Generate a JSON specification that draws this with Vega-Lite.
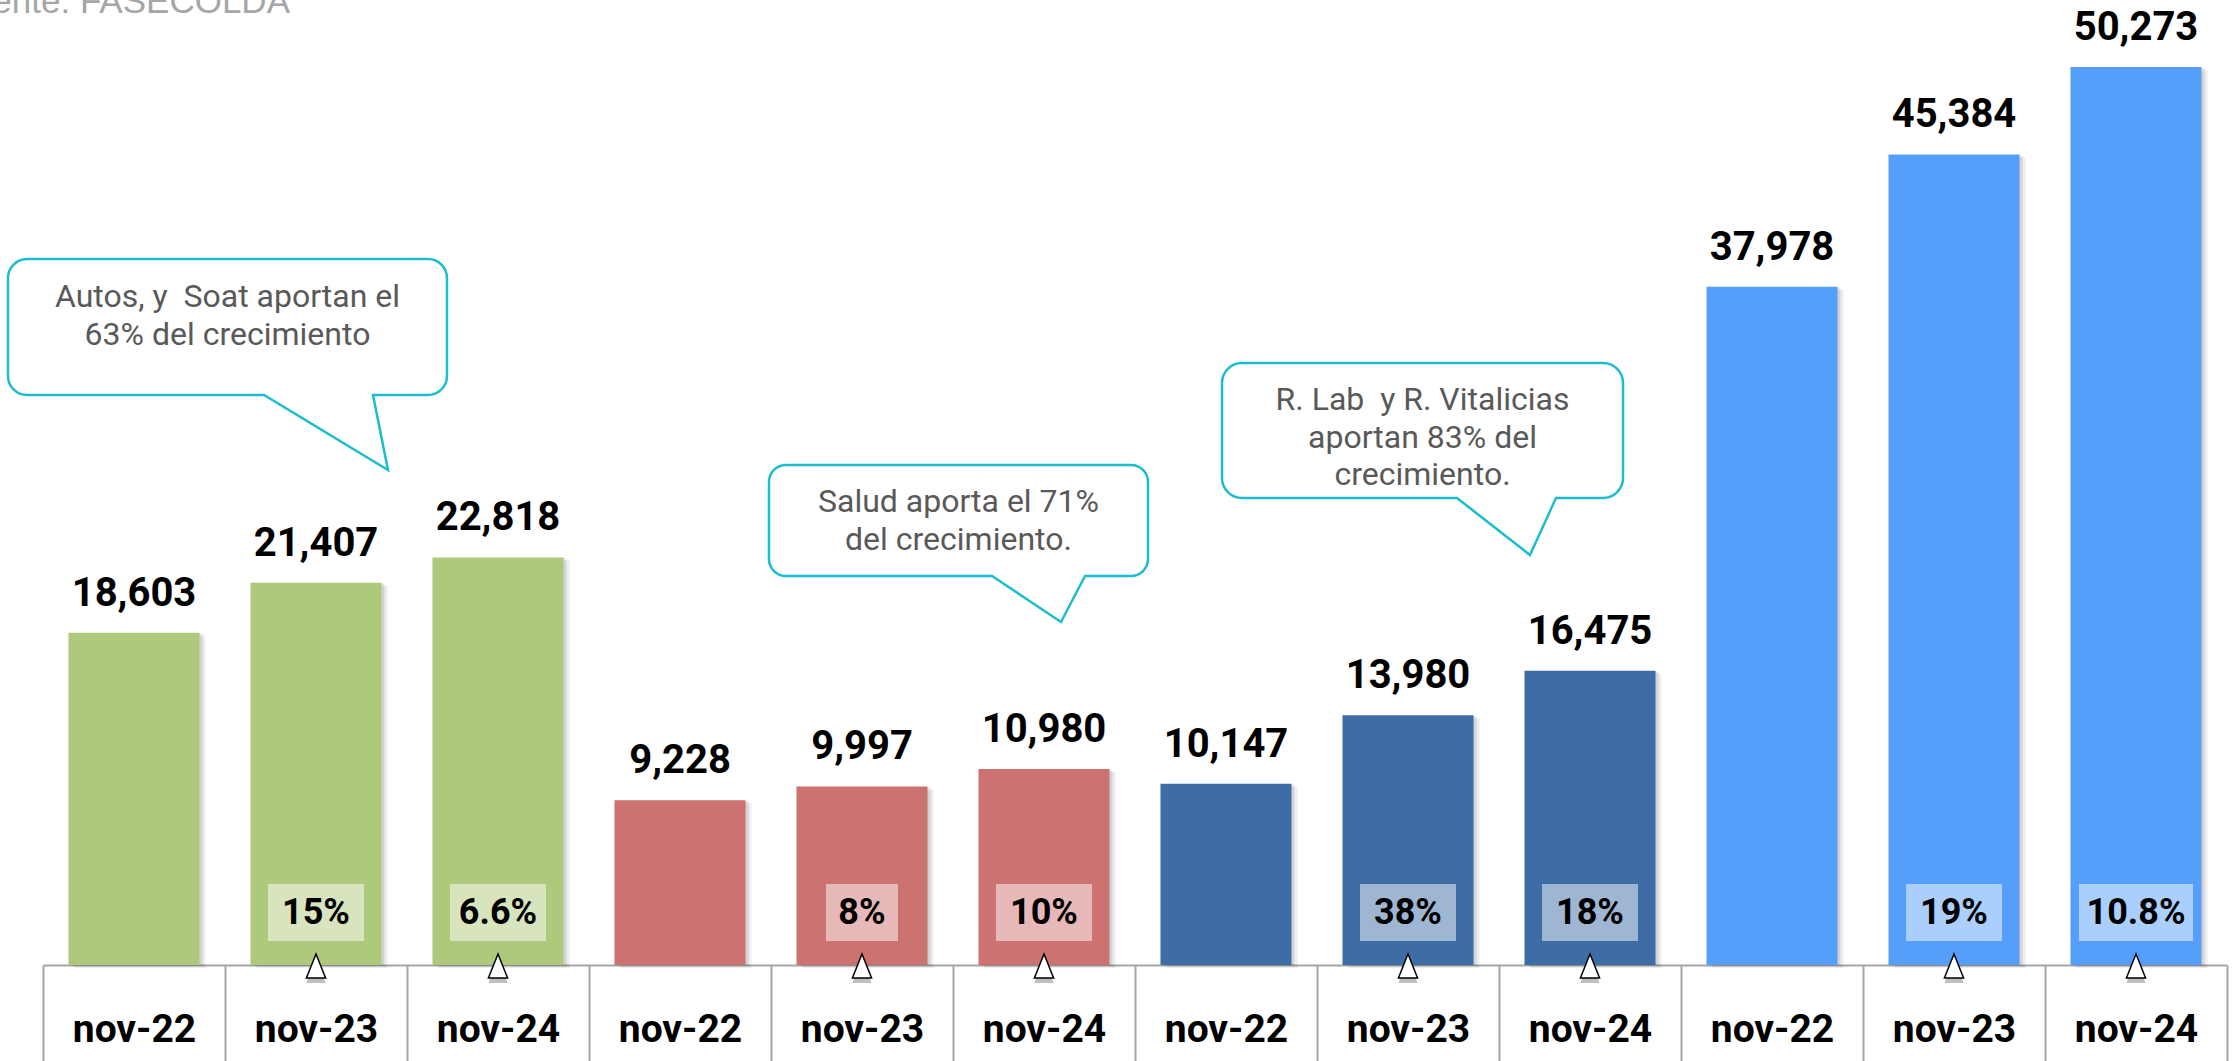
{
  "$schema": "https://vega.github.io/schema/vega-lite/v6.json",
  "width": 2184,
  "height": 965,
  "autosize": "none",
  "padding": {"left": 43, "top": 0, "right": 9, "bottom": 96},
  "background": "white",
  "config": {"view": {"stroke": null}, "font": "Roboto"},
  "data": {
    "values": [
      {"cat": "1|nov-22", "grupo": "Daños", "valor": 18603, "var": null},
      {"cat": "1|nov-23", "grupo": "Daños", "valor": 21407, "var": "15%"},
      {"cat": "1|nov-24", "grupo": "Daños", "valor": 22818, "var": "6.6%"},
      {"cat": "2|nov-22", "grupo": "Personas", "valor": 9228, "var": null},
      {"cat": "2|nov-23", "grupo": "Personas", "valor": 9997, "var": "8%"},
      {"cat": "2|nov-24", "grupo": "Personas", "valor": 10980, "var": "10%"},
      {"cat": "3|nov-22", "grupo": "Seguridad Social", "valor": 10147, "var": null},
      {"cat": "3|nov-23", "grupo": "Seguridad Social", "valor": 13980, "var": "38%"},
      {"cat": "3|nov-24", "grupo": "Seguridad Social", "valor": 16475, "var": "18%"},
      {"cat": "4|nov-22", "grupo": "Total", "valor": 37978, "var": null},
      {"cat": "4|nov-23", "grupo": "Total", "valor": 45384, "var": "19%"},
      {"cat": "4|nov-24", "grupo": "Total", "valor": 50273, "var": "10.8%"}
    ]
  },
  "layer": [
    {
      "mark": {"type": "bar", "width": {"band": 0.72}, "color": "#000000", "opacity": 0.07, "xOffset": 6, "yOffset": 3},
      "encoding": {
        "x": {"field": "cat", "type": "nominal", "title": null},
        "y": {"field": "valor", "type": "quantitative", "axis": null}
      }
    },
    {
      "mark": {"type": "bar", "width": {"band": 0.72}, "color": "#000000", "opacity": 0.1, "xOffset": 3, "yOffset": 1},
      "encoding": {
        "x": {"field": "cat", "type": "nominal", "title": null},
        "y": {"field": "valor", "type": "quantitative", "axis": null}
      }
    },
    {
      "mark": {"type": "bar", "width": {"band": 0.72}},
      "encoding": {
        "x": {
          "field": "cat", "type": "nominal", "sort": null, "title": null,
          "scale": {"paddingInner": 0, "paddingOuter": 0},
          "axis": {
            "title": null, "grid": false, "bandPosition": 0.5,
            "domainColor": "#a6a6a6", "domainWidth": 2,
            "tickColor": "#a6a6a6", "tickWidth": 2, "tickSize": 96, "tickBand": "extent",
            "labelFont": "Roboto", "labelFontSize": 39, "labelFontWeight": "bold", "labelColor": "#000000",
            "labelAngle": 0, "labelAlign": "center", "labelPadding": -20, "labelBaseline": "alphabetic",
            "labelExpr": "split(datum.label, '|')[1]", "labelOverlap": false, "labelFlush": false
          }
        },
        "y": {"field": "valor", "type": "quantitative", "scale": {"domain": [0, 54031], "nice": false, "zero": true}, "axis": null},
        "color": {
          "field": "grupo", "type": "nominal", "legend": null,
          "scale": {"domain": ["Daños", "Personas", "Seguridad Social", "Total"], "range": ["#AFC97C", "#CC7270", "#3E6DA5", "#559FFB"]}
        }
      }
    },
    {
      "mark": {"type": "text", "baseline": "alphabetic", "dy": -27, "fontSize": 40, "fontWeight": "bold", "color": "#000000", "font": "Roboto"},
      "encoding": {
        "x": {"field": "cat", "type": "nominal", "title": null},
        "y": {"field": "valor", "type": "quantitative", "axis": null},
        "text": {"field": "valor", "type": "quantitative", "format": ","}
      }
    },
    {
      "transform": [{"filter": "datum.var != null"}],
      "mark": {"type": "bar", "color": "#ffffff", "opacity": 0.5},
      "encoding": {
        "x": {"field": "cat", "type": "nominal", "title": null},
        "y": {"datum": 1344, "type": "quantitative", "axis": null},
        "y2": {"datum": 4535},
        "size": {"condition": [{"test": "length(datum.var) == 2", "value": 72}, {"test": "length(datum.var) == 5", "value": 114}], "value": 96}
      }
    },
    {
      "transform": [{"filter": "datum.var != null"}],
      "mark": {"type": "text", "baseline": "middle", "fontSize": 36, "fontWeight": "bold", "color": "#000000", "font": "Roboto"},
      "encoding": {
        "x": {"field": "cat", "type": "nominal", "title": null},
        "y": {"datum": 2911, "type": "quantitative", "axis": null},
        "text": {"field": "var", "type": "nominal"}
      }
    },
    {
      "transform": [{"filter": "datum.var != null"}],
      "mark": {"type": "point", "shape": "M 0 -1 L 0.8 1 L -0.8 1 Z", "size": 576, "filled": true, "fill": "#000000", "opacity": 0.25, "strokeWidth": 0, "yOffset": 5},
      "encoding": {
        "x": {"field": "cat", "type": "nominal", "title": null},
        "y": {"datum": -56, "type": "quantitative", "axis": null}
      }
    },
    {
      "transform": [{"filter": "datum.var != null"}],
      "mark": {"type": "point", "shape": "M 0 -1 L 0.8 1 L -0.8 1 Z", "size": 576, "filled": true, "fill": "#ffffff", "opacity": 1, "stroke": "#000000", "strokeWidth": 1.5},
      "encoding": {
        "x": {"field": "cat", "type": "nominal", "title": null},
        "y": {"datum": -56, "type": "quantitative", "axis": null}
      }
    },
    {
      "data": {"values": [{"nota": "Autos, y\u00a0 Soat aportan el\n63% del crecimiento"}]},
      "layer": [
        {
          "mark": {"type": "point", "shape": "M -0.9114 -0.3091 L 0.9114 -0.3091 A 0.0864 0.0864 0 0 1 0.9977 -0.2227 L 0.9977 0.2227 A 0.0864 0.0864 0 0 1 0.9114 0.3091 L 0.6614 0.3091 L 0.7295 0.65 L 0.1659 0.3091 L -0.9114 0.3091 A 0.0864 0.0864 0 0 1 -0.9977 0.2227 L -0.9977 -0.2227 A 0.0864 0.0864 0 0 1 -0.9114 -0.3091 Z", "size": 193600, "filled": true, "fill": "#ffffff", "opacity": 1, "stroke": "#1BBDCF", "strokeWidth": 2.5},
          "encoding": {
            "x": {"datum": "1|nov-23", "type": "nominal", "bandPosition": 0.0137, "title": null},
            "y": {"datum": 35722, "type": "quantitative", "axis": null}
          }
        },
        {
          "mark": {"type": "text", "lineBreak": "\n", "lineHeight": 38, "fontSize": 32, "color": "#595959", "align": "center", "baseline": "middle", "font": "Roboto"},
          "encoding": {
            "x": {"datum": "1|nov-23", "type": "nominal", "bandPosition": 0.0137, "title": null},
            "y": {"datum": 37401, "type": "quantitative", "axis": null},
            "text": {"field": "nota", "type": "nominal"}
          }
        }
      ]
    },
    {
      "data": {"values": [{"nota": "Salud aporta el 71%\ndel crecimiento."}]},
      "layer": [
        {
          "mark": {"type": "point", "shape": "M -0.8625 -0.2775 L 0.8625 -0.2775 A 0.085 0.085 0 0 1 0.9475 -0.1925 L 0.9475 0.1925 A 0.085 0.085 0 0 1 0.8625 0.2775 L 0.6325 0.2775 L 0.5125 0.5075 L 0.1675 0.2775 L -0.8625 0.2775 A 0.085 0.085 0 0 1 -0.9475 0.1925 L -0.9475 -0.1925 A 0.085 0.085 0 0 1 -0.8625 -0.2775 Z", "size": 160000, "filled": true, "fill": "#ffffff", "opacity": 1, "stroke": "#1BBDCF", "strokeWidth": 2.5},
          "encoding": {
            "x": {"datum": "2|nov-24", "type": "nominal", "bandPosition": 0.0302, "title": null},
            "y": {"datum": 24888, "type": "quantitative", "axis": null}
          }
        },
        {
          "mark": {"type": "text", "lineBreak": "\n", "lineHeight": 38, "fontSize": 32, "color": "#595959", "align": "center", "baseline": "middle", "font": "Roboto"},
          "encoding": {
            "x": {"datum": "2|nov-24", "type": "nominal", "bandPosition": 0.0302, "title": null},
            "y": {"datum": 25923, "type": "quantitative", "axis": null},
            "text": {"field": "nota", "type": "nominal"}
          }
        }
      ]
    },
    {
      "data": {"values": [{"nota": "R. Lab\u00a0 y R. Vitalicias\naportan 83% del\ncrecimiento."}]},
      "layer": [
        {
          "mark": {"type": "point", "shape": "M -0.8596 -0.3214 L 0.8596 -0.3214 A 0.0952 0.0952 0 0 1 0.9548 -0.2262 L 0.9548 0.2262 A 0.0952 0.0952 0 0 1 0.8596 0.3214 L 0.6357 0.3214 L 0.5119 0.5929 L 0.1643 0.3214 L -0.8596 0.3214 A 0.0952 0.0952 0 0 1 -0.9548 0.2262 L -0.9548 -0.2262 A 0.0952 0.0952 0 0 1 -0.8596 -0.3214 Z", "size": 176400, "filled": true, "fill": "#ffffff", "opacity": 1, "stroke": "#1BBDCF", "strokeWidth": 2.5},
          "encoding": {
            "x": {"datum": "3|nov-23", "type": "nominal", "bandPosition": 0.5797, "title": null},
            "y": {"datum": 29927, "type": "quantitative", "axis": null}
          }
        },
        {
          "mark": {"type": "text", "lineBreak": "\n", "lineHeight": 37.5, "fontSize": 32, "color": "#595959", "align": "center", "baseline": "middle", "font": "Roboto"},
          "encoding": {
            "x": {"datum": "3|nov-23", "type": "nominal", "bandPosition": 0.5797, "title": null},
            "y": {"datum": 31634, "type": "quantitative", "axis": null},
            "text": {"field": "nota", "type": "nominal"}
          }
        }
      ]
    },
    {
      "data": {"values": [{"fuente": "Fuente: FASECOLDA"}]},
      "mark": {"type": "text", "align": "right", "baseline": "alphabetic", "font": "Liberation Sans", "fontSize": 35, "color": "#a6a6a6"},
      "encoding": {
        "x": {"datum": "1|nov-23", "type": "nominal", "bandPosition": 0.357, "title": null},
        "y": {"datum": 53302, "type": "quantitative", "axis": null},
        "text": {"field": "fuente", "type": "nominal"}
      }
    }
  ]
}
